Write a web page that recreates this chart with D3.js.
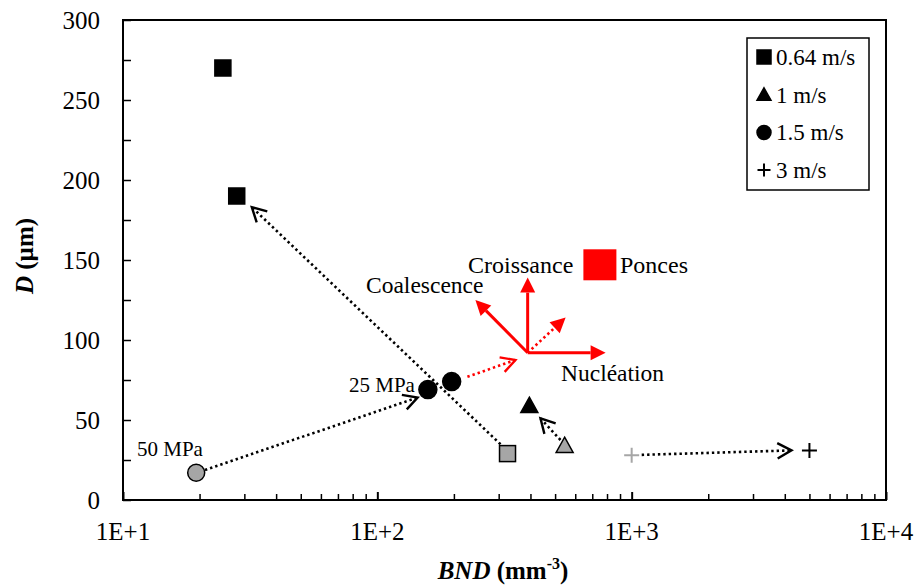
<!DOCTYPE html>
<html><head><meta charset="utf-8">
<script src="https://cdn.jsdelivr.net/npm/d3@7"></script>
<style>body{margin:0;background:#fff}</style>
</head><body><svg id="c" width="917" height="588" font-family="'Liberation Serif', 'Times New Roman', Times, 'DejaVu Serif', serif"></svg>
<script>
// ---- data ----
const seriesNames = ["0.64 m/s", "1 m/s", "1.5 m/s", "3 m/s"];
const seriesShapes = ["square", "triangle", "circle", "plus"];
// black (final) points
const squareBND = [24.7, 28], squareD = [270, 190];
const triangleBND = [396], triangleD = [59];
const circleBND = [158, 196], circleD = [69, 74];
const plusBND = [5000], plusD = [31];
// grey (initial) points
const greySquareBND = [325], greySquareD = [29];
const greyTriangleBND = [545], greyTriangleD = [34];
const greyCircleBND = [19.4], greyCircleD = [17];
const greyPlusBND = [1000], greyPlusD = [28];
// black dotted arrows [fromBND, fromD, toBND, toD]
const blackArrows = [
  [316, 32.5, 32.1, 183],
  [21, 18.8, 144, 64],
  [525, 37.5, 438, 51],
  [1095, 28.2, 4250, 31]
];
// red mechanism arrows
const redOrigin = [390, 92];
const redSolidTips = [[390, 139], [790, 92], [243, 125]];
const redDottedTip = [550, 114];
const redDottedArrow = [226, 77, 349, 87.5];
const poncesPoint = [750, 147];
const xTicks = [10, 100, 1000, 10000];
const xTickLabels = ["1E+1", "1E+2", "1E+3", "1E+4"];
const yTicks = [0, 50, 100, 150, 200, 250, 300];

// ---- layout ----
const svg = d3.select("#c");
const L = 123, R = 886, T = 20, B = 500;
const x = d3.scaleLog().domain([10, 10000]).range([L, R]);
const y = d3.scaleLinear().domain([0, 300]).range([B, T]);
const GREY = "#a6a6a6", RED = "#ff0000";

// frame
svg.append("rect").attr("x", L).attr("y", T).attr("width", R - L).attr("height", B - T)
  .attr("fill", "none").attr("stroke", "#000").attr("stroke-width", 2);

// x axis ticks (inward)
const minor = [];
for (let d = 10; d < 10000; d *= 10) for (let k = 2; k <= 9; k++) minor.push(d * k);
const gx = svg.append("g").attr("transform", `translate(0,${B})`)
  .call(d3.axisBottom(x).tickValues(xTicks).tickSize(-8).tickFormat(""));
gx.select(".domain").remove();
gx.selectAll("line").attr("stroke-width", 2);
const gxm = svg.append("g").attr("transform", `translate(0,${B})`)
  .call(d3.axisBottom(x).tickValues(minor).tickSize(-6).tickFormat(""));
gxm.select(".domain").remove();
gxm.selectAll("line").attr("stroke-width", 1.5);
svg.append("g").selectAll("text").data(xTicks).join("text")
  .attr("x", d => x(d)).attr("y", 540).attr("text-anchor", "middle")
  .attr("font-size", 25).text((d, i) => xTickLabels[i]);

// y axis ticks
const gy = svg.append("g").attr("transform", `translate(${L},0)`)
  .call(d3.axisLeft(y).tickValues(d3.range(0, 301, 25)).tickSize(-8).tickFormat(""));
gy.select(".domain").remove();
gy.selectAll("line").attr("stroke-width", 1.5);
svg.append("g").selectAll("text").data(yTicks).join("text")
  .attr("x", 100).attr("y", d => y(d)).attr("dy", "0.35em").attr("text-anchor", "end")
  .attr("font-size", 25).text(d => d);

// axis titles
const xt = svg.append("text").attr("x", 503).attr("y", 579).attr("text-anchor", "middle")
  .attr("font-size", 25).attr("font-weight", "bold");
xt.append("tspan").attr("font-style", "italic").text("BND");
xt.append("tspan").text(" (mm");
xt.append("tspan").attr("font-size", 16).attr("dy", -10).text("-3");
xt.append("tspan").attr("dy", 10).text(")");
const yt = svg.append("text").attr("transform", "translate(33,256) rotate(-90)")
  .attr("text-anchor", "middle").attr("font-size", 25).attr("font-weight", "bold");
yt.append("tspan").attr("font-style", "italic").text("D");
yt.append("tspan").text(" (µm)");

// helpers
function dotted(x1, y1, x2, y2, color) {
  svg.append("line").attr("x1", x1).attr("y1", y1).attr("x2", x2).attr("y2", y2)
    .attr("stroke", color).attr("stroke-width", 2.6).attr("stroke-dasharray", "2.4 3");
}
function openHead(x1, y1, x2, y2, color) {
  const a = Math.atan2(y2 - y1, x2 - x1), len = 16, sp = 0.5;
  const p = [[x2 - len * Math.cos(a - sp), y2 - len * Math.sin(a - sp)], [x2, y2],
             [x2 - len * Math.cos(a + sp), y2 - len * Math.sin(a + sp)]];
  svg.append("path").attr("d", d3.line()(p)).attr("fill", "none")
    .attr("stroke", color).attr("stroke-width", 2.4);
}
function filledArrow(x1, y1, x2, y2, color, dash) {
  const a = Math.atan2(y2 - y1, x2 - x1), len = 15, hw = 7.5;
  const bx = x2 - len * Math.cos(a), by = y2 - len * Math.sin(a);
  const l = svg.append("line").attr("x1", x1).attr("y1", y1).attr("x2", bx).attr("y2", by)
    .attr("stroke", color).attr("stroke-width", dash ? 2.6 : 3);
  if (dash) l.attr("stroke-dasharray", "2.4 3");
  const p = [[x2, y2], [bx - hw * Math.sin(a), by + hw * Math.cos(a)], [bx + hw * Math.sin(a), by - hw * Math.cos(a)]];
  svg.append("path").attr("d", d3.line()(p) + "Z").attr("fill", color);
}
function marker(shape, cx, cy, fill, stroke, s) {
  if (shape === "square") {
    svg.append("rect").attr("x", cx - s / 2).attr("y", cy - s / 2).attr("width", s).attr("height", s)
      .attr("fill", fill).attr("stroke", stroke).attr("stroke-width", 1.5);
  } else if (shape === "circle") {
    svg.append("circle").attr("cx", cx).attr("cy", cy).attr("r", s / 2)
      .attr("fill", fill).attr("stroke", stroke).attr("stroke-width", 1.5);
  } else if (shape === "triangle") {
    const h = s * 0.9;
    svg.append("path").attr("d", `M${cx},${cy - h * 0.55}L${cx + s / 2},${cy + h * 0.45}L${cx - s / 2},${cy + h * 0.45}Z`)
      .attr("fill", fill).attr("stroke", stroke).attr("stroke-width", 1.5).attr("stroke-linejoin", "miter");
  } else {
    svg.append("path").attr("d", `M${cx - s / 2},${cy}H${cx + s / 2}M${cx},${cy - s / 2}V${cy + s / 2}`)
      .attr("stroke", stroke).attr("stroke-width", 2);
  }
}

// black dotted arrows
blackArrows.forEach(a => {
  const x1 = x(a[0]), y1 = y(a[1]), x2 = x(a[2]), y2 = y(a[3]);
  dotted(x1, y1, x2, y2, "#000");
  openHead(x1, y1, x2, y2, "#000");
});

// red arrows
const ox = x(redOrigin[0]), oy = y(redOrigin[1]);
redSolidTips.forEach(t => filledArrow(ox, oy, x(t[0]), y(t[1]), RED, false));
filledArrow(ox, oy, x(redDottedTip[0]), y(redDottedTip[1]), RED, true);
{
  const x1 = x(redDottedArrow[0]), y1 = y(redDottedArrow[1]), x2 = x(redDottedArrow[2]), y2 = y(redDottedArrow[3]);
  dotted(x1, y1, x2, y2, RED);
  openHead(x1, y1, x2, y2, RED);
}

// grey points
greySquareBND.forEach((v, i) => marker("square", x(v), y(greySquareD[i]), GREY, "#000", 16));
greyTriangleBND.forEach((v, i) => marker("triangle", x(v), y(greyTriangleD[i]), GREY, "#000", 17));
greyCircleBND.forEach((v, i) => marker("circle", x(v), y(greyCircleD[i]), GREY, "#000", 17));
greyPlusBND.forEach((v, i) => marker("plus", x(v), y(greyPlusD[i]), "none", GREY, 15));
// black points
squareBND.forEach((v, i) => marker("square", x(v), y(squareD[i]), "#000", "#000", 16));
triangleBND.forEach((v, i) => marker("triangle", x(v), y(triangleD[i]), "#000", "#000", 17));
circleBND.forEach((v, i) => marker("circle", x(v), y(circleD[i]), "#000", "#000", 18));
plusBND.forEach((v, i) => marker("plus", x(v), y(plusD[i]), "none", "#000", 15));

// Ponces
svg.append("rect").attr("x", x(poncesPoint[0]) - 16.5).attr("y", y(poncesPoint[1]) - 15.5)
  .attr("width", 33).attr("height", 31).attr("fill", RED);

// annotation texts
const ann = [
  ["Croissance", 468, 273, 24], ["Coalescence", 366, 293, 23.5], ["Nucléation", 561, 381, 23.5],
  ["Ponces", 620, 273, 24], ["25 MPa", 349, 392, 21], ["50 MPa", 137, 456, 21]
];
svg.append("g").selectAll("text").data(ann).join("text")
  .attr("x", d => d[1]).attr("y", d => d[2]).attr("font-size", d => d[3]).text(d => d[0]);

// legend
svg.append("rect").attr("x", 747).attr("y", 38).attr("width", 122).attr("height", 152)
  .attr("fill", "#fff").attr("stroke", "#000").attr("stroke-width", 1.5);
seriesNames.forEach((n, i) => {
  const cy = 57 + i * 37.7;
  marker(seriesShapes[i], 764, cy, "#000", "#000", seriesShapes[i] === "plus" ? 13 : 14);
  svg.append("text").attr("x", 776).attr("y", cy).attr("dy", "0.35em").attr("font-size", 23).text(n);
});
</script></body></html>
